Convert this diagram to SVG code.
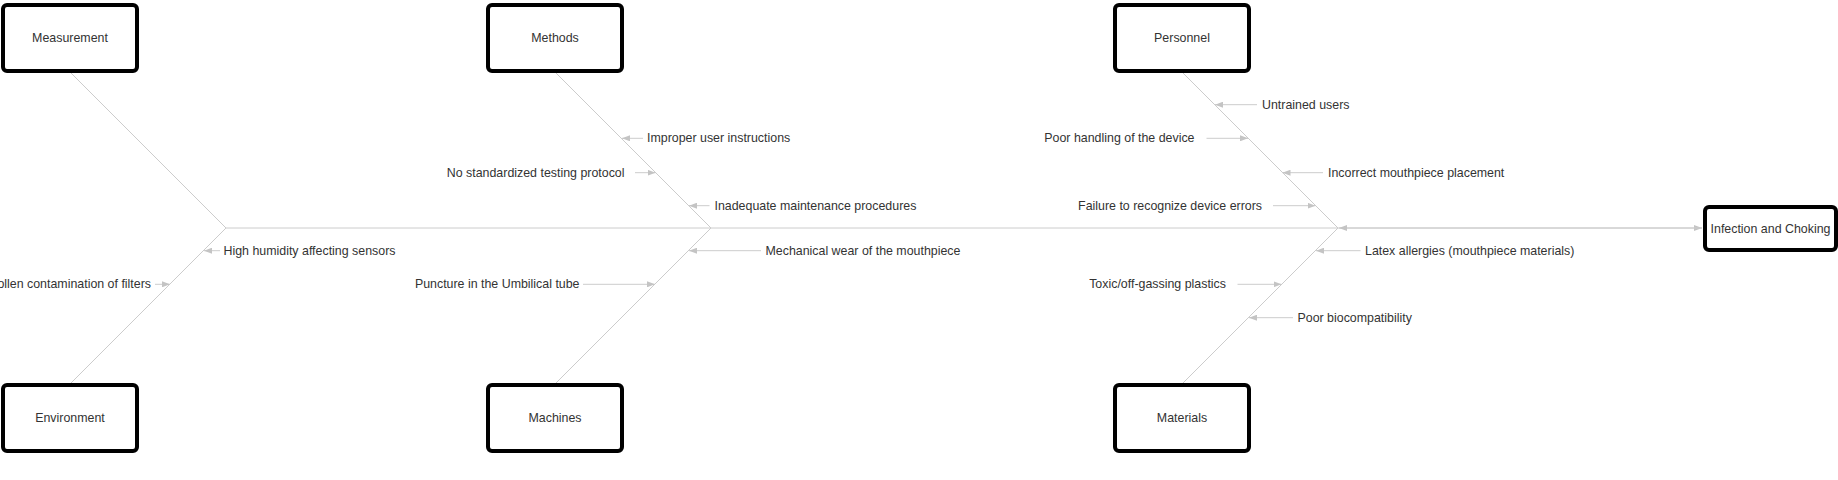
<svg xmlns="http://www.w3.org/2000/svg" width="1838" height="480" viewBox="0 0 1838 480">
<style>
.box{fill:#fff;stroke:#000;stroke-width:4}
.lbl{font-family:"Liberation Sans",Arial,sans-serif;font-size:12.4px;fill:#333;dominant-baseline:central}
.mid{text-anchor:middle}
.end{text-anchor:end}
.ln{stroke:#cccccc;stroke-width:1;fill:none}
.ar{stroke:#cccccc;stroke-width:1;fill:none;marker-end:url(#ah)}
</style>
<defs>
<marker id="ah" markerUnits="userSpaceOnUse" markerWidth="8" markerHeight="6" refX="8" refY="3" orient="auto">
<path d="M0,0 L8,3 L0,6 z" fill="#c4c4c4"/>
</marker>
</defs>
<rect width="1838" height="480" fill="#fff"/>
<g id="connectors">
<line class="ln" x1="226" y1="228" x2="1338" y2="228"/>
<line class="ar" x1="1338" y1="228" x2="1702" y2="228"/>
<line class="ar" x1="1702" y1="228" x2="1339" y2="228"/>
<line class="ln" x1="71" y1="73" x2="226" y2="228"/>
<line class="ln" x1="71" y1="383" x2="226" y2="228"/>
<line class="ln" x1="556" y1="73" x2="711" y2="228"/>
<line class="ln" x1="556" y1="383" x2="711" y2="228"/>
<line class="ln" x1="1183" y1="73" x2="1338" y2="228"/>
<line class="ln" x1="1183" y1="383" x2="1338" y2="228"/>
<line class="ar" x1="220" y1="250.7" x2="204" y2="250.7"/>
<line class="ar" x1="155" y1="284.3" x2="170" y2="284.3"/>
<line class="ar" x1="643" y1="138.3" x2="622" y2="138.3"/>
<line class="ar" x1="635" y1="172.7" x2="655.5" y2="172.7"/>
<line class="ar" x1="709.5" y1="205.7" x2="689" y2="205.7"/>
<line class="ar" x1="761" y1="250.7" x2="689" y2="250.7"/>
<line class="ar" x1="583" y1="284.3" x2="655" y2="284.3"/>
<line class="ar" x1="1257" y1="104.7" x2="1215" y2="104.7"/>
<line class="ar" x1="1206.5" y1="138.3" x2="1248" y2="138.3"/>
<line class="ar" x1="1323" y1="172.7" x2="1282.5" y2="172.7"/>
<line class="ar" x1="1273" y1="205.7" x2="1315.5" y2="205.7"/>
<line class="ar" x1="1360.5" y1="250.7" x2="1316" y2="250.7"/>
<line class="ar" x1="1237.5" y1="284.3" x2="1281.5" y2="284.3"/>
<line class="ar" x1="1293" y1="317.7" x2="1249" y2="317.7"/>
</g>
<g id="labels">
<text class="lbl" x="223.5" y="250.7">High humidity affecting sensors</text>
<text class="lbl end" x="151" y="284.3">Pollen contamination of filters</text>
<text class="lbl" x="647" y="138.3">Improper user instructions</text>
<text class="lbl end" x="624.5" y="172.7">No standardized testing protocol</text>
<text class="lbl" x="714.5" y="205.7">Inadequate maintenance procedures</text>
<text class="lbl" x="765.5" y="250.7">Mechanical wear of the mouthpiece</text>
<text class="lbl end" x="579.5" y="284.3">Puncture in the Umbilical tube</text>
<text class="lbl" x="1262" y="104.7">Untrained users</text>
<text class="lbl end" x="1194.5" y="138.3">Poor handling of the device</text>
<text class="lbl" x="1328" y="172.7">Incorrect mouthpiece placement</text>
<text class="lbl end" x="1262" y="205.7">Failure to recognize device errors</text>
<text class="lbl" x="1365" y="250.7">Latex allergies (mouthpiece materials)</text>
<text class="lbl end" x="1226" y="284.3">Toxic/off-gassing plastics</text>
<text class="lbl" x="1297.5" y="317.7">Poor biocompatibility</text>
</g>
<g id="node-measurement"><rect class="box" x="3" y="5" width="134" height="66" rx="4"/><text class="lbl mid" x="70" y="38">Measurement</text></g>
<g id="node-methods"><rect class="box" x="488" y="5" width="134" height="66" rx="4"/><text class="lbl mid" x="555" y="38">Methods</text></g>
<g id="node-personnel"><rect class="box" x="1115" y="5" width="134" height="66" rx="4"/><text class="lbl mid" x="1182" y="38">Personnel</text></g>
<g id="node-environment"><rect class="box" x="3" y="385" width="134" height="66" rx="4"/><text class="lbl mid" x="70" y="418">Environment</text></g>
<g id="node-machines"><rect class="box" x="488" y="385" width="134" height="66" rx="4"/><text class="lbl mid" x="555" y="418">Machines</text></g>
<g id="node-materials"><rect class="box" x="1115" y="385" width="134" height="66" rx="4"/><text class="lbl mid" x="1182" y="418">Materials</text></g>
<g id="node-effect"><rect class="box" x="1705" y="207" width="131" height="43" rx="4"/><text class="lbl mid" x="1770.5" y="228.5">Infection and Choking</text></g>
</svg>
